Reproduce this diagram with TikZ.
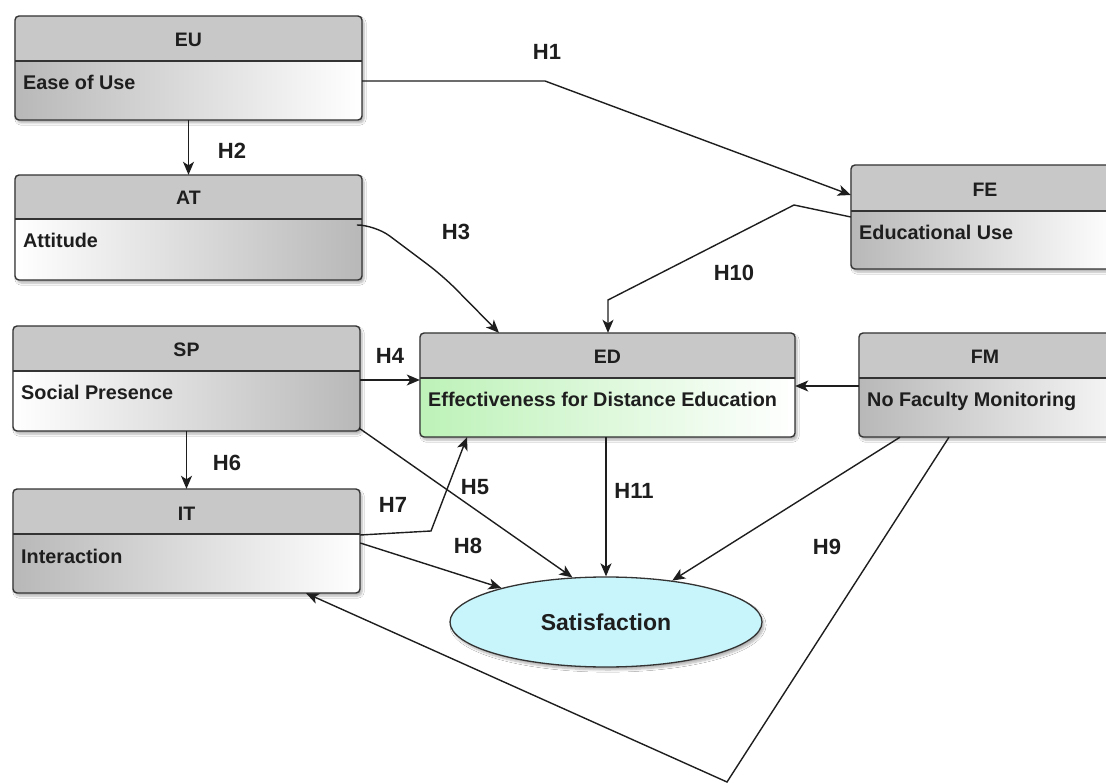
\documentclass[tikz,border=0pt]{standalone}
\usepackage{fontspec}
\setmainfont{Liberation Sans}
\usetikzlibrary{arrows.meta,shapes.geometric,fit,shadows.blur}

\definecolor{headgray}{HTML}{C8C8C8}
\definecolor{bodygray}{HTML}{B8B8B8}
\definecolor{edgreen}{HTML}{BDF2B8}
\definecolor{satfill}{HTML}{C8F5FB}
\definecolor{ink}{HTML}{1E1E1E}
\definecolor{edge}{HTML}{333333}

\tikzset{
  boxline/.style={draw=edge, line width=1.4pt, rounded corners=4pt},
  divline/.style={draw=edge, line width=1.4pt},
  titletext/.style={font=\fontsize{19.5}{23}\selectfont\bfseries, text=ink, anchor=base, inner sep=0pt},
  bodytext/.style={font=\fontsize{19.8}{23}\selectfont\bfseries, text=ink, anchor=base west, inner sep=0pt},
  hlab/.style={font=\fontsize{22}{25}\selectfont\bfseries, text=ink, inner sep=0pt},
  conn/.style={draw=ink, line width=1.4pt, -{Stealth[length=13pt,width=11pt,inset=3.5pt]}},
  softshadow/.style={blur shadow={shadow xshift=2pt, shadow yshift=-3pt, shadow blur steps=6, shadow opacity=30}},
}

% name, x1, y1, x2, y2, divider y, title, body, shading keys
\newcommand\umlbox[9]{%
  \path[rounded corners=4pt, softshadow, #9] (#2,#3) rectangle (#4,#5);
  \begin{scope}
    \clip[rounded corners=4pt] (#2,#3) rectangle (#4,#5);
    \fill[headgray] (#2,#3) rectangle (#4,#6);
  \end{scope}
  \draw[boxline] (#2,#3) rectangle (#4,#5);
  \draw[divline] (#2,#6) -- (#4,#6);
  \node[fit={(#2,#3) (#4,#5)}, inner sep=0pt] (#1) {};
  \node[titletext] (#1-t) at ({(#2+#4)/2},{#6-14}) {#7};
  \node[bodytext] (#1-b) at ({#2+8},{#6+29}) {#8};
}

\begin{document}
\begin{tikzpicture}[x=1pt,y=-1pt]
\useasboundingbox (0,0) rectangle (1106,783);
\clip (0,0) rectangle (1106,783);
\fill[white] (0,0) rectangle (1106,783);

\umlbox{EU}{15}{16}{362}{120}{61}{EU}{Ease of Use}{left color=bodygray, right color=white}
\umlbox{AT}{15}{175}{362}{280}{219}{AT}{Attitude}{left color=white, right color=bodygray}
\umlbox{SP}{13}{326}{360}{431}{371}{SP}{Social Presence}{left color=white, right color=bodygray}
\umlbox{IT}{13}{489}{360}{593}{534}{IT}{Interaction}{left color=bodygray, right color=white}
\umlbox{ED}{420}{333}{795}{437}{378}{ED}{Effectiveness for Distance Education}{left color=edgreen, right color=white}
\umlbox{FE}{851}{165}{1119}{269}{211}{FE}{Educational Use}{left color=bodygray, right color=white}
\umlbox{FM}{859}{333}{1111}{437}{378}{FM}{No Faculty Monitoring}{left color=bodygray, right color=white!85!bodygray}

\node[ellipse, draw=edge, line width=1.3pt, fill=satfill, minimum width=312pt, minimum height=90pt,
      font=\fontsize{23}{26}\selectfont\bfseries, text=ink, softshadow] (Sat) at (606,622) {Satisfaction};

% bend points
\coordinate (b1) at (545,81);
\coordinate (b3a) at (375,225);
\coordinate (b3b) at (443,276);
\coordinate (b10a) at (794,205);
\coordinate (b10b) at (608,300);
\coordinate (b7) at (431,531);
\coordinate (b9) at (727,782);

% connectors
\draw[conn] (EU.east |- b1) -- (b1) -- (FE.west |- 0,195);
\draw[conn] (EU.south) -- (AT.north);
\draw[conn, rounded corners=18pt] (AT.east |- b3a) -- (b3a) -- (b3b) -- (ED.north -| 499,0);
\draw[conn] (FE.west |- 0,217) -- (b10a) -- (b10b) -- (ED.north -| b10b);
\draw[conn] (SP.east |- 0,380) -- (ED.west |- 0,380);
\draw[conn] (SP.south east) ++(-1,-3) -- (Sat.127);
\draw[conn] (SP.south) -- (IT.north);
\draw[conn] (IT.east |- 0,535) -- (b7) -- (ED.south -| 467,0);
\draw[conn] (IT.east |- 0,543) -- (Sat.162);
\draw[conn] (ED.south -| Sat.north) -- (Sat.north);
\draw[conn] (FM.west |- 0,386) -- (ED.east |- 0,386);
\draw[conn] (FM.south -| 900,0) -- (Sat.32);
\draw[conn] (FM.south -| 949,0) -- (b9) -- (IT.south -| 306,0);

% labels
\node[hlab] (lH1) at (547,52) {H1};
\node[hlab] (lH2) at (232,151) {H2};
\node[hlab] (lH3) at (456,232) {H3};
\node[hlab] (lH10) at (734,273) {H10};
\node[hlab] (lH4) at (390,356) {H4};
\node[hlab] (lH6) at (227,463) {H6};
\node[hlab] (lH5) at (475,487) {H5};
\node[hlab] (lH7) at (393,505) {H7};
\node[hlab] (lH8) at (468,546) {H8};
\node[hlab] (lH11) at (634,491) {H11};
\node[hlab] (lH9) at (827,547) {H9};
\end{tikzpicture}
\end{document}
